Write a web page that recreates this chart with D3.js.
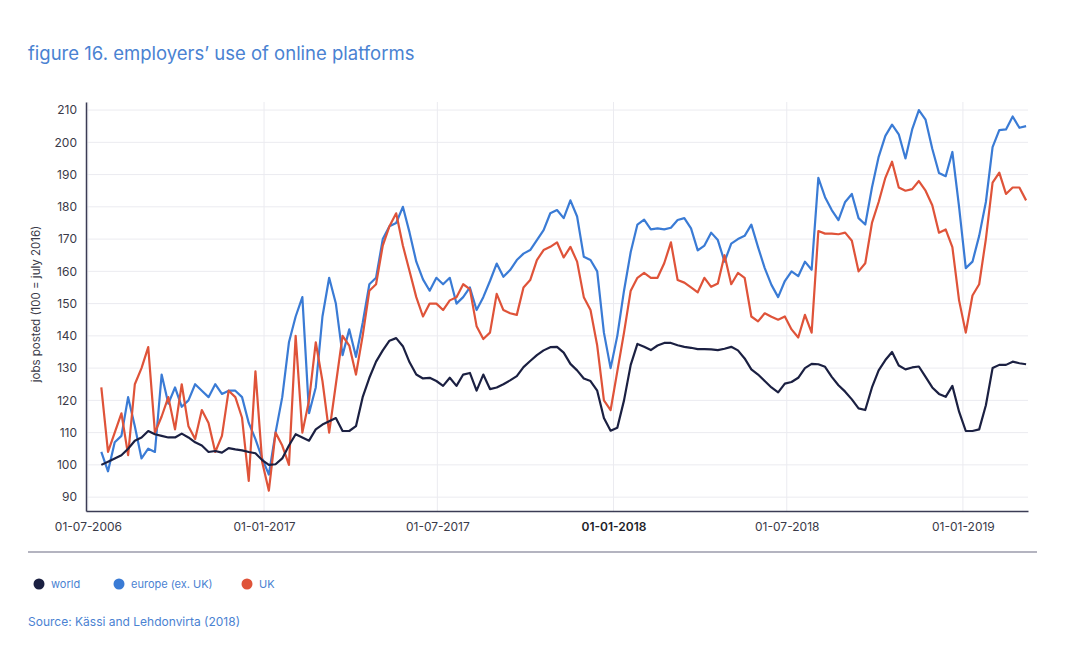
<!DOCTYPE html>
<html>
<head>
<meta charset="utf-8">
<script src="https://cdn.jsdelivr.net/npm/d3@7"></script>
<style>
  html, body { margin: 0; padding: 0; background: #ffffff; }
  svg { display: block; font-family: "Inter", "Lato", "DejaVu Sans", sans-serif; }
</style>
</head>
<body>
<svg id="chart" width="1080" height="660"></svg>
<script>
// ---- data (weekly readings, starting 2016-07-15) ----
const startDate = "2016-07-15";
const stepDays = 7;

const world = [100,101,102,103,105,107.5,108.5,110.5,109.5,109,108.5,108.5,109.7,108.5,107,106,104,104.3,103.8,105.2,104.8,104.5,104,103.6,101.5,100,100.2,
  102,106,109.5,108.5,107.5,111,112.5,113.5,114.5,110.5,110.5,112,121,127,132,135.5,138.5,139.3,136.8,131.8,128,126.8,127,126,124.5,127,
  124.5,128,128.5,123,128,123.5,124,125,126.2,127.5,130.3,132.2,134,135.5,136.5,136.6,134.8,131.3,129.3,126.8,126,123,114.5,110.6,111.5,120,131,
  137.5,136.6,135.6,137,137.8,137.8,137.1,136.6,136.3,135.9,135.9,135.8,135.6,136,136.6,135.5,133,129.6,128,126,124,122.5,125.2,125.7,127,130,131.3,
  131.2,130.4,127.3,124.7,122.7,120.3,117.5,117,124,129.3,132.5,135,130.8,129.6,130.2,130.5,127.3,124,122,121.1,124.5,116.5,110.5,110.5,111,118.5,130,131,131,132,131.5,131.2];

const europe = [104,98,107,109,121,112,102,105,104,128,119,124,118,120,125,123,121,125,122,123,123,121,113,108,102,97,110,
  121,138,146,152,116,124,146,158,150,134,142,133.5,144,156,158,170,174,175,180,172,163,157.5,154,158,156,158,
  150,152,155,148,152,157,162.4,158.3,160.4,163.5,165.5,166.6,169.7,172.8,178,179,176.5,182,177,164.5,163.5,160,141,130,140,154,166,
  174.5,176,173,173.3,173,173.5,175.9,176.5,173.3,166.5,168,172,169.7,163,168.6,170,171,174.5,167.5,161,155.8,152,157,160,158.5,163,160.5,
  189,183,179,175.9,181.5,184,176.5,174.5,186,195.5,202,205.5,202.5,195,204,210,207,198,190.5,189.5,197,180,161,163,171,181.5,198.5,203.8,204,208,204.5,205];

const uk = [124,104,110,116,103,125,130,136.5,110,115,121,111,125,112,108,117,113,104,109,123,121,114.6,95,129,101,92,110,
  106,100,140,110,120,138,126,110,125,140,137,128,140,154,156,168,174,178,168,160,152,146,150,150,148,151,
  152,156,154.5,143,139,141,153,148,147,146.5,155,157.3,163.5,166.6,167.6,169,164.3,167.6,163,152,148,137,120,117,129,141,154,
  158,159.5,158,158,162.5,169,157.3,156.5,155,153.5,158,155.2,156.2,165,156,159.5,158,146,144.5,147,145.9,145,146,142,139.5,146.5,141,
  172.5,171.7,171.7,171.5,172,169.5,160,162.5,175,181.5,189,194,186,185,185.5,188,185,180.5,172,173,167.5,151,141,152.5,156,170,187.5,190.6,184,186,186,182];

const seriesNames = ["world", "europe (ex. UK)", "UK"];
const seriesColors = ["#1b2042", "#3a7bd5", "#df5339"];

const yTicks = [90,100,110,120,130,140,150,160,170,180,190,200,210];
const xTickDates = ["2016-07-01","2017-01-01","2017-07-01","2018-01-01","2018-07-01","2019-01-01"];
const xTickLabels = ["01-07-2006","01-01-2017","01-07-2017","01-01-2018","01-07-2018","01-01-2019"];

const titleText = "figure 16. employers\u2019 use of online platforms";
const yTitle = "jobs posted  (100 = july 2016)";
const sourceText = "Source: K\u00e4ssi and Lehdonvirta (2018)";

// ---- build ----
const parse = d3.utcParse("%Y-%m-%d");
const start = parse(startDate);
const dates = world.map((_, i) => d3.utcDay.offset(start, i * stepDays));

const svg = d3.select("#chart");
const plotLeft = 86, plotRight = 1028, plotTop = 102, plotBottom = 511;

const x = d3.scaleUtc()
  .domain([parse("2016-06-29"), parse("2019-03-10")])
  .range([plotLeft, plotRight]);
const y = d3.scaleLinear()
  .domain([85.7, 212.5])
  .range([plotBottom, plotTop]);

// title
svg.append("text")
  .attr("x", 28).attr("y", 60)
  .attr("fill", "#4a82d2")
  .attr("font-size", 18.5)
  .text(titleText);

// horizontal gridlines
svg.append("g")
  .selectAll("line").data(yTicks).join("line")
  .attr("x1", plotLeft).attr("x2", plotRight)
  .attr("y1", d => y(d)).attr("y2", d => y(d))
  .attr("stroke", "#ebebf0").attr("stroke-width", 1);

// vertical gridlines
svg.append("g")
  .selectAll("line").data(xTickDates.map(parse)).join("line")
  .attr("x1", d => x(d)).attr("x2", d => x(d))
  .attr("y1", plotTop).attr("y2", plotBottom)
  .attr("stroke", "#ebebf0").attr("stroke-width", 1);

// y axis
const yAxis = d3.axisLeft(y).tickValues(yTicks).tickSize(0).tickPadding(9);
const gy = svg.append("g").attr("transform", `translate(${plotLeft},0)`).call(yAxis);
gy.select(".domain").attr("stroke", "#3b3c55").attr("stroke-width", 1.5);
gy.selectAll("text").attr("font-size", 12).attr("fill", "#3a3a48")
  .attr("font-family", "Inter, Lato, sans-serif");

// x axis
const xAxis = d3.axisBottom(x)
  .tickValues(xTickDates.map(parse))
  .tickFormat((d, i) => xTickLabels[i])
  .tickSize(0).tickPadding(11);
const gx = svg.append("g").attr("transform", `translate(0,${plotBottom})`).call(xAxis);
gx.select(".domain").attr("stroke", "#3b3c55").attr("stroke-width", 1.5);
gx.selectAll("text").attr("font-size", 12).attr("fill", "#3a3a48")
  .attr("font-family", "Inter, Lato, sans-serif");
gx.selectAll("text").filter((d, i) => i === 3).attr("fill", "#1e1e2a").attr("font-weight", 600);

// y title
svg.append("text")
  .attr("transform", "translate(40,304) rotate(-90)")
  .attr("text-anchor", "middle")
  .attr("font-size", 11.5)
  .attr("fill", "#3a3a48")
  .text(yTitle);

// lines
const line = d3.line()
  .x((d, i) => x(dates[i]))
  .y(d => y(d))
  .curve(d3.curveLinear);

const allSeries = [europe, uk, world];
const allColors = [seriesColors[1], seriesColors[2], seriesColors[0]];
svg.append("g")
  .selectAll("path").data(allSeries).join("path")
  .attr("d", d => line(d))
  .attr("fill", "none")
  .attr("stroke", (d, i) => allColors[i])
  .attr("stroke-width", 2.2)
  .attr("stroke-linejoin", "round");

// separator
svg.append("line")
  .attr("x1", 28).attr("x2", 1037).attr("y1", 552).attr("y2", 552)
  .attr("stroke", "#b4b4c0").attr("stroke-width", 2);

// legend
const legendX = [39, 119, 247];
const lg = svg.append("g").selectAll("g").data(seriesNames).join("g")
  .attr("transform", (d, i) => `translate(${legendX[i]},584)`);
lg.append("circle").attr("r", 5.5).attr("fill", (d, i) => seriesColors[i]);
lg.append("text").attr("x", 12).attr("y", 4)
  .attr("font-size", 11).attr("fill", "#4a82d2")
  .text(d => d);

// source
svg.append("text")
  .attr("x", 28).attr("y", 626)
  .attr("font-size", 12).attr("fill", "#4a82d2")
  .text(sourceText);
</script>
</body>
</html>
